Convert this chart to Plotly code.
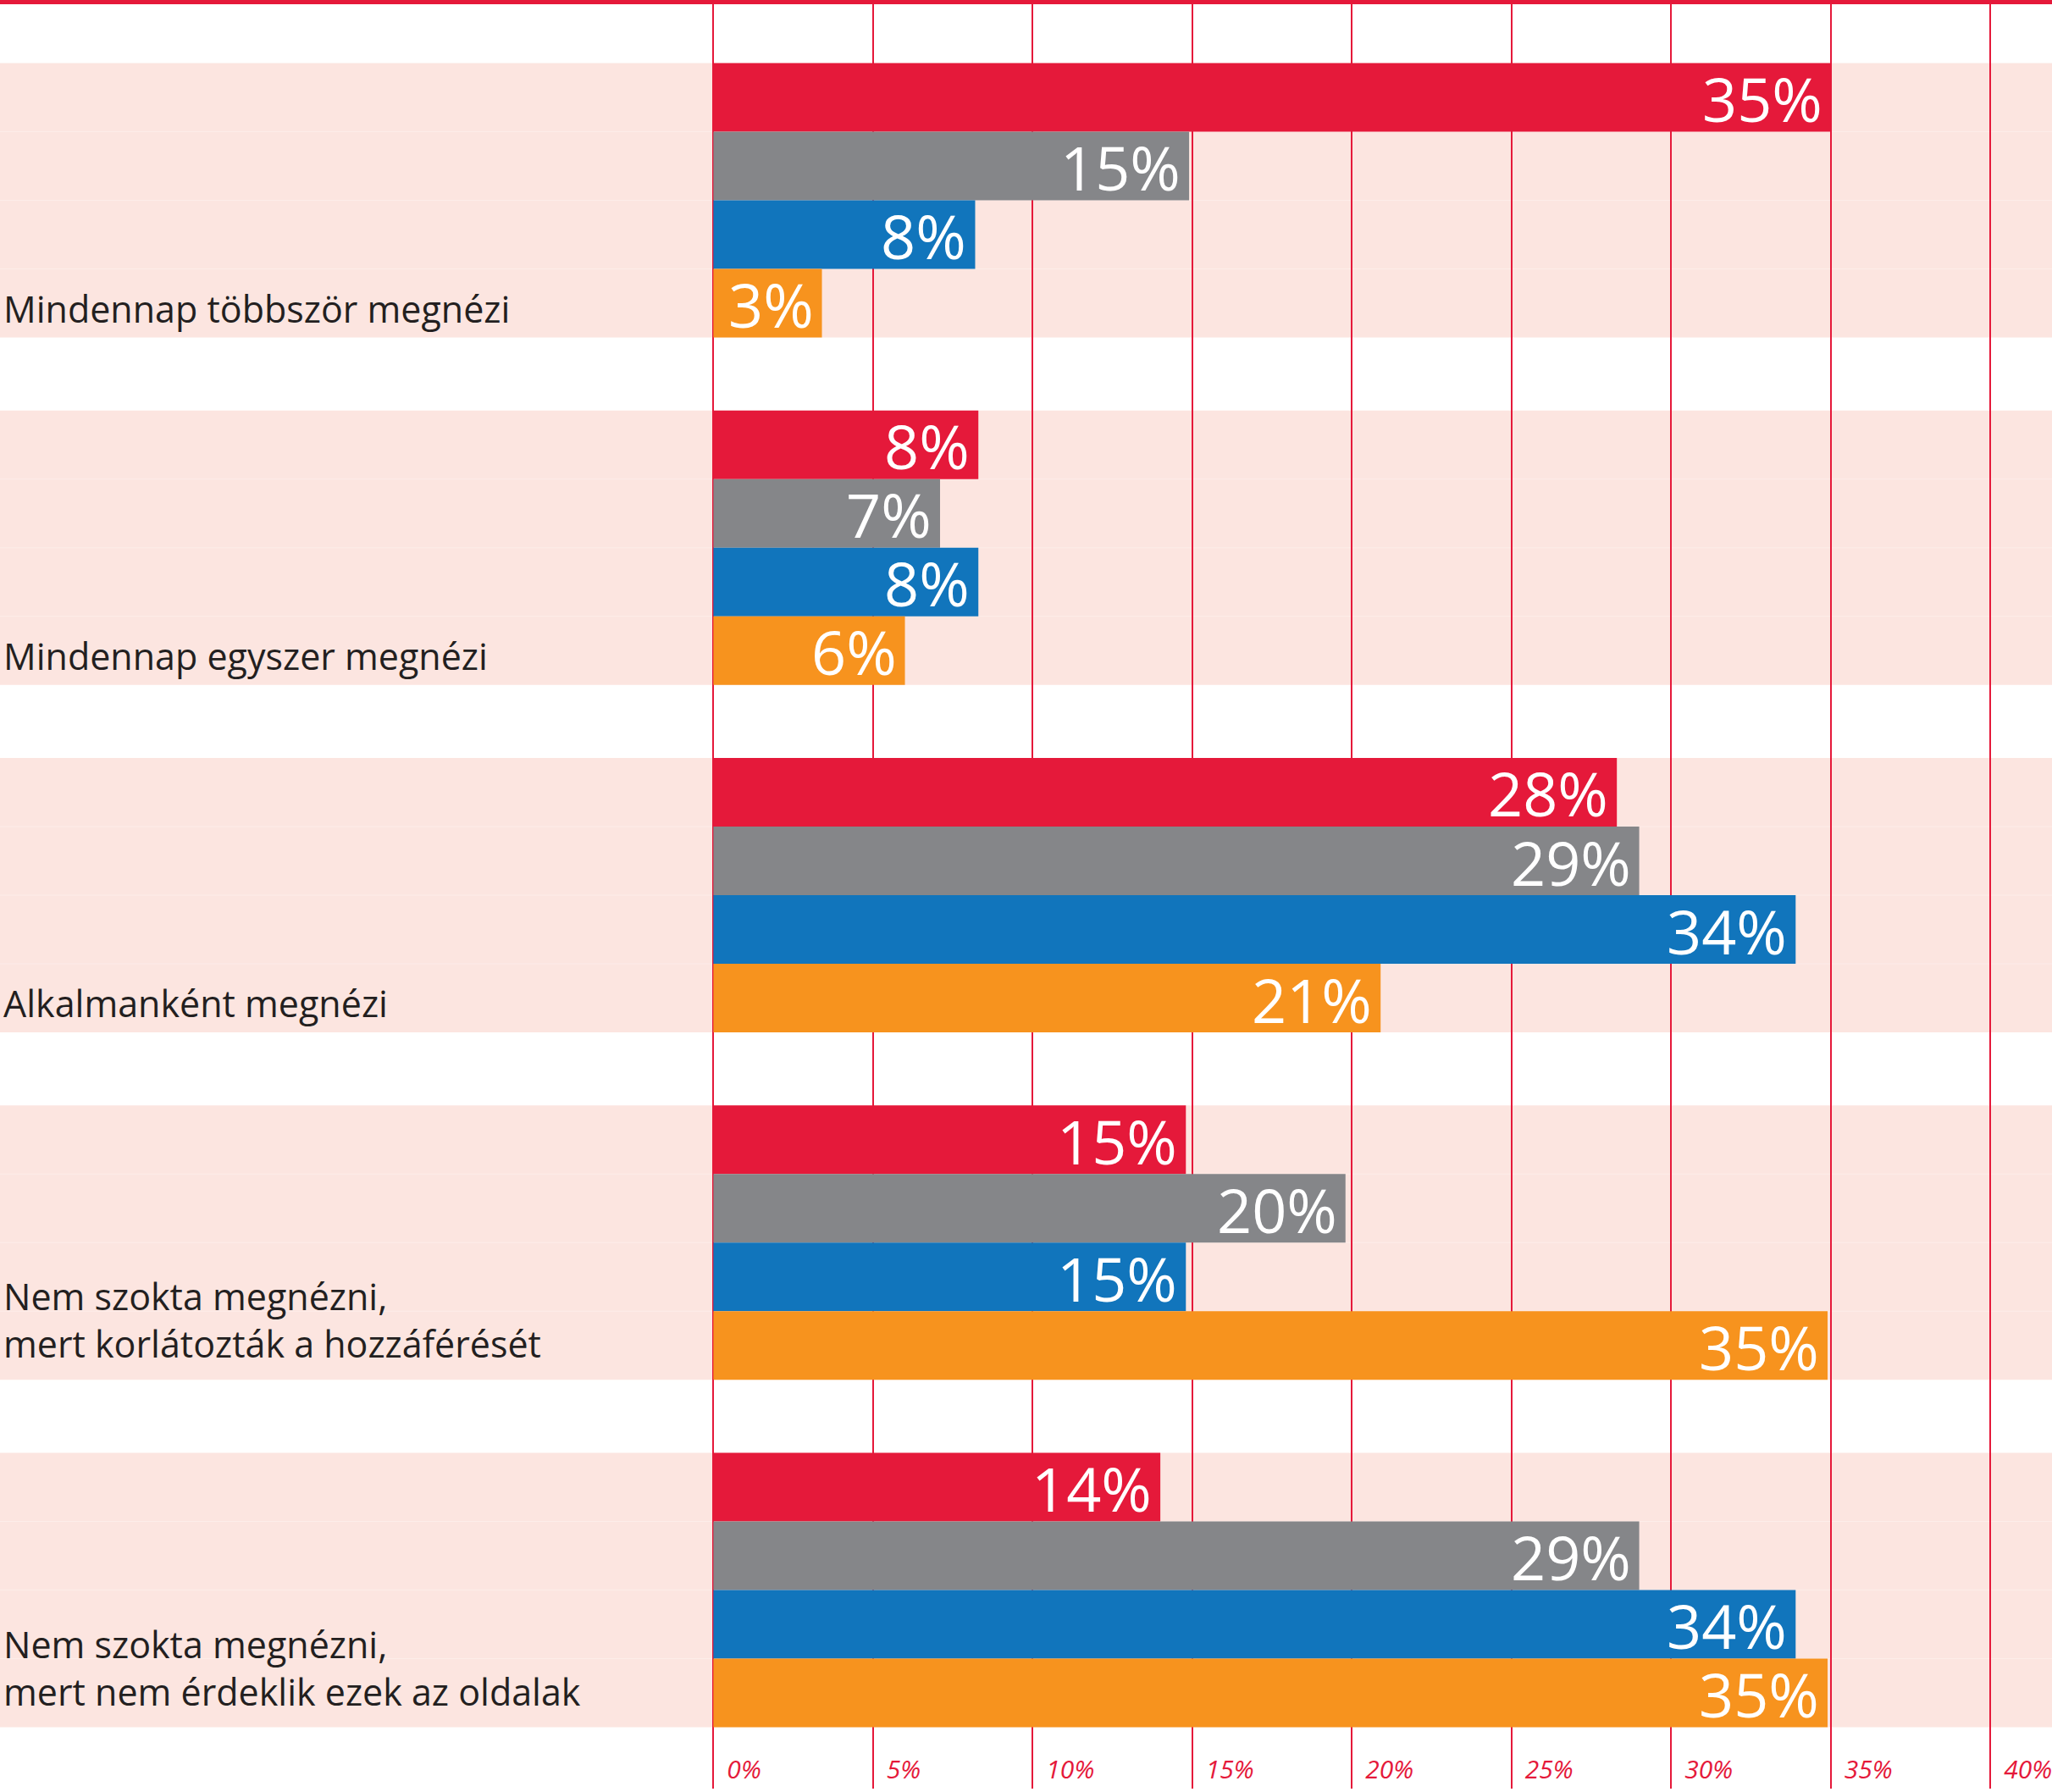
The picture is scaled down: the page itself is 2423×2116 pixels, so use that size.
import plotly.graph_objects as go

# ---------------- data ----------------
categories = [
    "Mindennap többször megnézi",
    "Mindennap egyszer megnézi",
    "Alkalmanként megnézi",
    "Nem szokta megnézni,<br>mert korlátozták a hozzáférését",
    "Nem szokta megnézni,<br>mert nem érdeklik ezek az oldalak",
]
series_names = ["1. csoport", "2. csoport", "3. csoport", "4. csoport"]
red_values = [35.0, 8.3, 28.3, 14.8, 14.0]
gray_values = [14.9, 7.1, 29.0, 19.8, 29.0]
blue_values = [8.2, 8.3, 33.9, 14.8, 33.9]
orange_values = [3.4, 6.0, 20.9, 34.9, 34.9]
tick_values = [0, 5, 10, 15, 20, 25, 30, 35, 40]
tick_labels = [f"{t}%" for t in tick_values]

# ---------------- style ----------------
RED = "#E5193A"
GRAY = "#858689"
BLUE = "#1175BC"
ORANGE = "#F7931E"
PINK = "#FCE5E0"
TEXT = "#231F20"
colors = [RED, GRAY, BLUE, ORANGE]
series = [red_values, gray_values, blue_values, orange_values]

W, H = 2423, 2116
MB = 4
PX_PER_GROUP = 410.25
Y_TOP = -0.5765
BARGAP = 0.21
n_series = len(series)
bw = (1 - BARGAP) / n_series
positions = list(range(len(categories)))
LABEL_FONT = 43

fig = go.Figure()
for name, vals, col in zip(series_names, series, colors):
    fig.add_trace(go.Bar(
        name=name, y=positions, x=vals, orientation="h",
        marker=dict(color=col, line=dict(width=0)),
        hoverinfo="x+name",
    ))

shapes = []
annotations = []
for i, cat in enumerate(categories):
    half = (1 - BARGAP) / 2
    shapes.append(dict(type="rect", xref="paper", yref="y", x0=0, x1=1,
                       y0=i - half, y1=i + half, fillcolor=PINK,
                       line=dict(width=0), layer="below"))
    for k in range(1, n_series):
        yy = i - half + k * bw
        shapes.append(dict(type="line", xref="paper", yref="y", x0=0, x1=1,
                           y0=yy, y1=yy, line=dict(color="#FDEDE9", width=1),
                           layer="below"))
    n_lines = cat.count("<br>") + 1
    # last line of the label sits on the last (orange) bar row
    annotations.append(dict(
        xref="paper", yref="y", x=2 / W, y=i + (n_series - 1 - 1.5) * bw,
        text=cat, showarrow=False, xanchor="left", yanchor="middle", align="left",
        yshift=-6 + (n_lines - 1) * 36,
        font=dict(family="Open Sans", size=LABEL_FONT, color=TEXT),
    ))
    for s, vals in enumerate(series):
        v = vals[i]
        annotations.append(dict(
            xref="x", yref="y", x=v, y=i + (s - 1.5) * bw,
            text=f"{round(v)}%", showarrow=False, xanchor="right", yanchor="middle",
            xshift=-8, yshift=-1, height=76, valign="middle",
            font=dict(family="Open Sans", size=72, color="white"),
        ))

# top red rule
shapes.append(dict(type="rect", xref="paper", yref="paper", x0=0, x1=1,
                   y0=1 - 5 / (H - MB), y1=1, fillcolor=RED, line=dict(width=0),
                   layer="above"))

fig.update_layout(
    width=W, height=H,
    margin=dict(l=0, r=0, t=0, b=MB, pad=0),
    paper_bgcolor="white", plot_bgcolor="rgba(0,0,0,0)",
    barmode="group", bargap=BARGAP, bargroupgap=0,
    showlegend=False,
    shapes=shapes, annotations=annotations,
    xaxis=dict(
        domain=[840.1 / W, 1], range=[-0.06, 41.93],
        tickmode="array", tickvals=tick_values, ticktext=tick_labels,
        showgrid=True, gridcolor=RED, gridwidth=2,
        zeroline=False, showline=False, ticks="",
        ticklabelposition="inside right", ticklabelshift=16,
        ticklabeloverflow="allow",
        tickfont=dict(family="Open Sans", size=30, color=RED, style="italic"),
        fixedrange=True,
    ),
    yaxis=dict(
        range=[Y_TOP + (H - MB) / PX_PER_GROUP, Y_TOP],
        showticklabels=False, showgrid=False, zeroline=False, showline=False,
        fixedrange=True,
    ),
)

fig.write_html("out.html")
